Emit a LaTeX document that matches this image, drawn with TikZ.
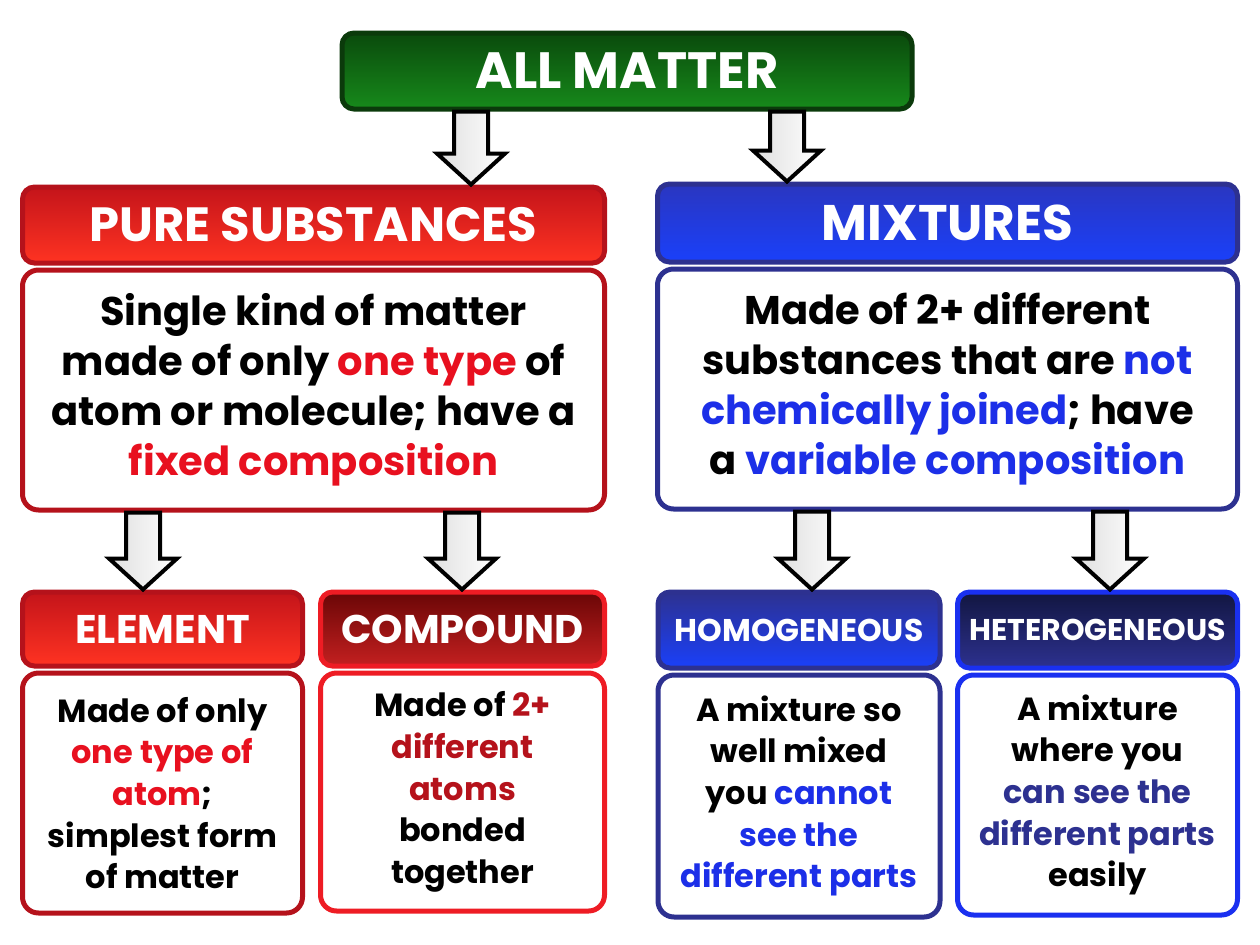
\documentclass[tikz,border=0pt]{standalone}
\usepackage{fontspec}
\setmainfont{Poppins}
\usetikzlibrary{positioning, calc}

\definecolor{greentop}{HTML}{0A4A0C}
\definecolor{greenbot}{HTML}{178A1B}
\definecolor{greenline}{HTML}{0B3A0B}
\definecolor{redtop}{HTML}{C4141A}
\definecolor{redbot}{HTML}{FF3322}
\definecolor{redline}{HTML}{B5121B}
\definecolor{darkredtop}{HTML}{6A0606}
\definecolor{darkredbot}{HTML}{C42020}
\definecolor{brightred}{HTML}{EE1C24}
\definecolor{bluetop}{HTML}{2A36C0}
\definecolor{bluebot}{HTML}{1A40FA}
\definecolor{navy}{HTML}{2D3190}
\definecolor{navytop}{HTML}{121640}
\definecolor{brightblue}{HTML}{1A30F0}
\definecolor{txtred}{HTML}{E8101F}
\definecolor{txtdarkred}{HTML}{B5121B}
\definecolor{txtblue}{HTML}{1C2FE8}

\tikzset{
  header/.style={draw, rounded corners=6pt, line width=2.5pt, text=white, font=\bfseries, inner sep=0pt},
  infobox/.style={draw, rounded corners=8pt, line width=2.5pt, fill=white, align=center, font=\bfseries, inner sep=0pt},
  fatarrow/.style={draw=black, line width=2pt, line join=miter, left color=gray!25, right color=white}
}

% block arrow: x coordinate, source node, target node
\newcommand{\fatarrow}[3]{%
  \draw[fatarrow] ($(#2.south -| #1)+(-17,0)$) -- ($(#3.north -| #1)+(-17,-31)$)
    -- ($(#3.north -| #1)+(-34,-31)$) -- (#3.north -| #1)
    -- ($(#3.north -| #1)+(34,-31)$) -- ($(#3.north -| #1)+(17,-31)$)
    -- ($(#2.south -| #1)+(17,0)$) -- cycle;}

\begin{document}
\begin{tikzpicture}[x=0.5pt, y=-0.5pt]
  \useasboundingbox (0,0) rectangle (1260,944);

  \node[header, top color=greentop, bottom color=greenbot, draw=greenline, minimum width=285pt, minimum height=38pt, font=\bfseries\fontsize{25.5}{30}\selectfont] (matter) at (627,71) {ALL MATTER};

  \node[header, top color=redtop, bottom color=redbot, draw=redline, minimum width=291pt, minimum height=38pt, font=\bfseries\fontsize{24}{28}\selectfont] (pure) at (313.5,225) {PURE SUBSTANCES};
  \node[infobox, draw=redline, below=1pt of pure, minimum width=291pt, minimum height=120pt, font=\bfseries\fontsize{20}{25}\selectfont] (purebody) {Single kind of matter\\ made of only \textcolor{txtred}{one type} of\\ atom or molecule; have a\\ \textcolor{txtred}{fixed composition}};

  \node[header, top color=bluetop, bottom color=bluebot, draw=navy, minimum width=290pt, minimum height=39pt, font=\bfseries\fontsize{25}{28}\selectfont] (mix) at (947.5,223) {MIXTURES};
  \node[infobox, draw=navy, below=1pt of mix, minimum width=290pt, minimum height=120pt, font=\bfseries\fontsize{20}{25}\selectfont] (mixbody) {Made of 2+ different\\ substances that are \textcolor{txtblue}{not}\\ \textcolor{txtblue}{chemically joined}; have\\ a \textcolor{txtblue}{variable composition}};

  \node[header, top color=redtop, bottom color=redbot, draw=redline, minimum width=140pt, minimum height=37pt, font=\bfseries\fontsize{20}{24}\selectfont] (element) at (162.5,629) {ELEMENT};
  \node[infobox, draw=redline, below=1pt of element, minimum width=140pt, minimum height=120pt, font=\bfseries\fontsize{16}{20.8}\selectfont] (elembody) {Made of only\\ \textcolor{txtred}{one type of}\\ \textcolor{txtred}{atom};\\ simplest form\\ of matter};

  \node[header, top color=darkredtop, bottom color=darkredbot, draw=brightred, minimum width=142pt, minimum height=37pt, font=\bfseries\fontsize{20}{24}\selectfont] (compound) at (462.5,629) {COMPOUND};
  \node[infobox, draw=brightred, below=1pt of compound, minimum width=142pt, minimum height=119pt, font=\bfseries\fontsize{16}{20.8}\selectfont] (compbody) {Made of \textcolor{txtdarkred}{2+}\\ \textcolor{txtdarkred}{different}\\ \textcolor{txtdarkred}{atoms}\\ bonded\\ together};

  \node[header, top color=navy, bottom color=bluebot, draw=navy, minimum width=141pt, minimum height=38pt, font=\bfseries\fontsize{15.7}{20}\selectfont] (homo) at (799,630) {HOMOGENEOUS};
  \node[infobox, draw=navy, below=1pt of homo, minimum width=141pt, minimum height=121pt, font=\bfseries\fontsize{16}{20.8}\selectfont] (homobody) {A mixture so\\ well mixed\\ you \textcolor{txtblue}{cannot}\\ \textcolor{txtblue}{see the}\\ \textcolor{txtblue}{different parts}};

  \node[header, top color=navytop, bottom color=navy, draw=brightblue, minimum width=140pt, minimum height=38pt, font=\bfseries\fontsize{15}{20}\selectfont] (hetero) at (1097.5,630) {HETEROGENEOUS};
  \node[infobox, draw=brightblue, below=1pt of hetero, minimum width=140pt, minimum height=120pt, font=\bfseries\fontsize{16}{20.8}\selectfont] (hetebody) {A mixture\\ where you\\ \textcolor{navy}{can see the}\\ \textcolor{navy}{different parts}\\ easily};

  % arrow positions
  \coordinate (xa) at (471,0);
  \coordinate (xb) at (787,0);
  \coordinate (xc) at (143,0);
  \coordinate (xd) at (462,0);
  \coordinate (xe) at (812,0);
  \coordinate (xf) at (1110,0);

  \fatarrow{xa}{matter}{pure}
  \fatarrow{xb}{matter}{mix}
  \fatarrow{xc}{purebody}{element}
  \fatarrow{xd}{purebody}{compound}
  \fatarrow{xe}{mixbody}{homo}
  \fatarrow{xf}{mixbody}{hetero}
\end{tikzpicture}
\end{document}
